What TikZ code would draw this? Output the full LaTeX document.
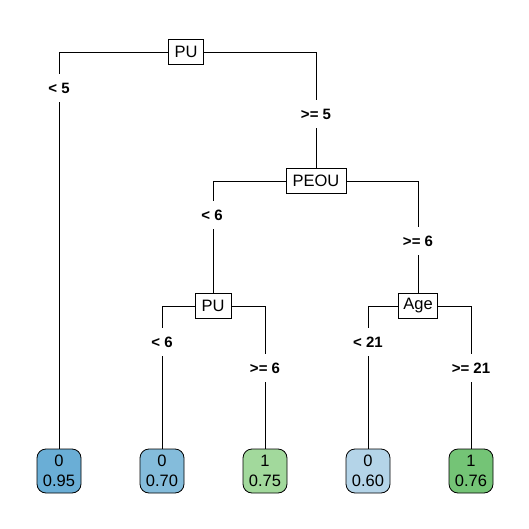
\documentclass[tikz,border=0pt]{standalone}
\usepackage{fontspec}
\setmainfont{Liberation Sans}
\begin{document}
\begin{tikzpicture}[x=1pt,y=-1pt,
  split/.style={draw=black, fill=white, line width=0.8pt, inner sep=0pt,
    minimum height=25pt, font=\fontsize{16.5}{16.5}\selectfont},
  leaf/.style={draw=black, line width=0.8pt, rounded corners=9pt, inner sep=0pt,
    minimum width=44pt, minimum height=44pt, align=center,
    font=\fontsize{16.5}{20.5}\selectfont},
  cond/.style={fill=white, inner sep=0pt, minimum height=28pt,
    font=\bfseries\fontsize{15}{15}\selectfont},
  branch/.style={draw=black, line width=0.8pt}]
\useasboundingbox (0,0) rectangle (529,529);
\definecolor{b1}{HTML}{6AAED6}
\definecolor{b2}{HTML}{84BCDB}
\definecolor{b3}{HTML}{B4D4E8}
\definecolor{g1}{HTML}{A2D99C}
\definecolor{g2}{HTML}{74C476}

% split nodes
\node[split, minimum width=35pt] (pu1) at (186,52) {PU};
\node[split, minimum width=60pt] (peou) at (316,181) {PEOU};
\node[split, minimum width=36pt] (pu2) at (213,306) {PU};
\node[split, minimum width=39pt] (age) at (418,306) {Age};

% leaves
\node[leaf, fill=b1] (l1) at (59,471) {0\\0.95};
\node[leaf, fill=b2] (l2) at (162,471) {0\\0.70};
\node[leaf, fill=g1] (l3) at (265,471) {1\\0.75};
\node[leaf, fill=b3] (l4) at (368,471) {0\\0.60};
\node[leaf, fill=g2] (l5) at (471,471) {1\\0.76};

% branches
\draw[branch] (pu1.west) -| (l1.north);
\draw[branch] (pu1.east) -| (peou.north);
\draw[branch] (peou.west) -| (pu2.north);
\draw[branch] (peou.east) -| (age.north);
\draw[branch] (pu2.west) -| (l2.north);
\draw[branch] (pu2.east) -| (l3.north);
\draw[branch] (age.west) -| (l4.north);
\draw[branch] (age.east) -| (l5.north);

% split conditions
\node[cond] (c1) at (59,88) {< 5};
\node[cond] (c2) at (316,114) {>= 5};
\node[cond] (c3) at (212,215) {< 6};
\node[cond] (c4) at (418,241) {>= 6};
\node[cond] (c5) at (162,342) {< 6};
\node[cond] (c6) at (265,368) {>= 6};
\node[cond] (c7) at (368,342) {< 21};
\node[cond] (c8) at (471,368) {>= 21};
\end{tikzpicture}
\end{document}
